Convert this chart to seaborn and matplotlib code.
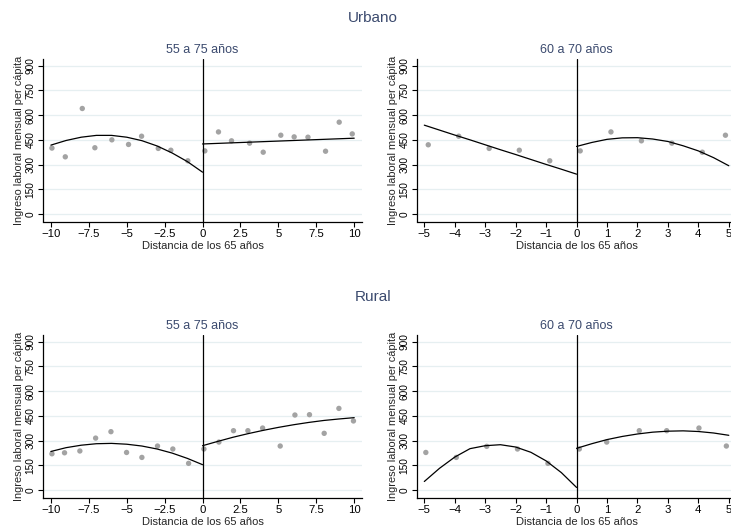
import matplotlib
matplotlib.use("Agg")
import matplotlib.pyplot as plt
import seaborn as sns
import pandas as pd

# ---------------- data ----------------
# Urbano, 55 a 75 años : binned means
urb_a_x = [-9.93, -9.05, -7.93, -7.10, -5.98, -4.88, -4.02, -2.92, -2.09, -0.97,
           0.15, 1.05, 1.91, 3.10, 4.00, 5.16, 6.04, 6.95, 8.11, 9.01, 9.87]
urb_a_y = [400, 347, 640, 402, 450, 422, 472, 398, 387, 323,
           383, 498, 444, 430, 375, 478, 468, 466, 381, 557, 486]
# Urbano, 60 a 70 años
urb_b_x = [-4.87, -3.87, -2.87, -1.88, -0.88, 0.12, 1.13, 2.13, 3.13, 4.13, 4.89]
urb_b_y = [420, 472, 398, 387, 323, 383, 498, 444, 430, 375, 478]
# Rural, 55 a 75 años
rur_a_x = [-9.93, -9.10, -8.09, -7.05, -6.04, -5.01, -4.00, -2.97, -1.96, -0.92,
           0.09, 1.08, 2.04, 2.99, 3.96, 5.12, 6.09, 7.05, 8.02, 8.99, 9.95]
rur_a_y = [220, 226, 237, 315, 354, 228, 198, 267, 249, 162,
           249, 291, 360, 360, 376, 267, 455, 457, 344, 495, 419]
# Rural, 60 a 70 años
rur_b_x = [-4.95, -3.95, -2.95, -1.94, -0.94, 0.09, 0.99, 2.06, 2.96, 4.02, 4.92]
rur_b_y = [228, 198, 265, 249, 162, 249, 291, 360, 360, 376, 267]

# fitted curves
fit_x10_left = [-10, -9, -8, -7, -6, -5, -4, -3, -2, -1, 0]
fit_x10_right = [0, 1, 2, 3, 4, 5, 6, 7, 8, 9, 10]
fit_x5_left = [-5, -4.5, -4, -3.5, -3, -2.5, -2, -1.5, -1, -0.5, 0]
fit_x5_right = [0, 0.5, 1, 1.5, 2, 2.5, 3, 3.5, 4, 4.5, 5]

urb_a_fit_l = [418, 446, 466, 477, 477, 466, 445, 413, 370, 318, 254]
urb_a_fit_r = [425, 428.5, 432, 435.5, 439, 442.5, 446, 449.5, 453, 456.5, 460]
urb_b_fit_l = [539, 509, 479, 450, 420, 390, 361, 331, 301, 272, 242]
urb_b_fit_r = [410, 434, 453, 462, 463, 455, 440, 414, 383, 342, 293]
rur_a_fit_l = [234, 257, 272, 281, 283, 278, 267, 249, 224, 192, 154]
rur_a_fit_r = [269, 295, 320, 342, 362, 380, 396, 410, 422, 431, 439]
rur_b_fit_l = [52, 132, 200, 251, 269, 275, 261, 229, 177, 106, 16]
rur_b_fit_r = [253, 281, 306, 325, 340, 351, 357, 359, 355, 346, 332]

y_ticks = [0, 150, 300, 450, 600, 750, 900]
x_ticks_a = [-10, -7.5, -5, -2.5, 0, 2.5, 5, 7.5, 10]
x_ticks_b = [-5, -4, -3, -2, -1, 0, 1, 2, 3, 4, 5]
x_labels_a = ["\u221210", "\u22127.5", "\u22125", "\u22122.5", "0", "2.5", "5", "7.5", "10"]
x_labels_b = ["\u22125", "\u22124", "\u22123", "\u22122", "\u22121", "0", "1", "2", "3", "4", "5"]

# ---------------- style ----------------
sns.set_style("white")
plt.rcParams["font.family"] = ["Liberation Sans", "DejaVu Sans"]

TITLE_COL = "#3b4a6e"
GRID_COL = "#e6eff1"
PT_COL = "#a3a3a3"

W, H = 731, 526
fig = plt.figure(figsize=(W / 100, H / 100), dpi=100)


def px_axes(left, top, width, height):
    return fig.add_axes([left / W, 1 - (top + height) / H, width / W, height / H])


panels = [
    (43.3, 59.0, urb_a_x, urb_a_y,
     [(fit_x10_left, urb_a_fit_l), (fit_x10_right, urb_a_fit_r)],
     (-10.5, 10.5), x_ticks_a, x_labels_a, "55 a 75 a\u00f1os"),
    (417.3, 59.0, urb_b_x, urb_b_y,
     [(fit_x5_left, urb_b_fit_l), (fit_x5_right, urb_b_fit_r)],
     (-5.23, 5.23), x_ticks_b, x_labels_b, "60 a 70 a\u00f1os"),
    (43.3, 335.0, rur_a_x, rur_a_y,
     [(fit_x10_left, rur_a_fit_l), (fit_x10_right, rur_a_fit_r)],
     (-10.5, 10.5), x_ticks_a, x_labels_a, "55 a 75 a\u00f1os"),
    (417.3, 335.0, rur_b_x, rur_b_y,
     [(fit_x5_left, rur_b_fit_l), (fit_x5_right, rur_b_fit_r)],
     (-5.23, 5.23), x_ticks_b, x_labels_b, "60 a 70 a\u00f1os"),
]

for left, top, xs, ys, fits, xlim, xt, xl, sub in panels:
    ax = px_axes(left, top, 318.5, 162.5)
    ax.set_facecolor("white")
    for yv in y_ticks:
        ax.axhline(yv, color=GRID_COL, lw=0.9, zorder=0)
    df = pd.DataFrame({"x": xs, "y": ys})
    sns.scatterplot(data=df, x="x", y="y", ax=ax, color=PT_COL, s=15,
                    edgecolor="none", zorder=3)
    for fx, fy in fits:
        fdf = pd.DataFrame({"x": fx, "y": fy})
        sns.lineplot(data=fdf, x="x", y="y", ax=ax, color="black", lw=0.9,
                     zorder=4, sort=True)
    ax.axvline(0, color="black", lw=0.9, zorder=5)
    ax.set_xlim(*xlim)
    ax.set_ylim(-45, 940)
    ax.set_xticks(xt)
    ax.set_xticklabels(xl)
    ax.set_yticks(y_ticks)
    ax.set_yticklabels([str(v) for v in y_ticks], rotation=90, va="center")
    for s in ["top", "right"]:
        ax.spines[s].set_visible(False)
    for s in ["left", "bottom"]:
        ax.spines[s].set_color("black")
        ax.spines[s].set_linewidth(0.9)
    ax.tick_params(axis="both", direction="out", length=3.5, width=0.8,
                   colors="black", left=True, bottom=True)
    ax.tick_params(axis="x", labelsize=8.2, pad=2.2)
    ax.tick_params(axis="y", labelsize=7.3, pad=2.0)
    ax.set_xlabel("Distancia de los 65 a\u00f1os", fontsize=8.0, labelpad=0.8)
    ax.set_ylabel("Ingreso laboral mensual per c\u00e1pita", fontsize=7.9, labelpad=1.2)
    ax.set_title(sub, fontsize=9.0, color=TITLE_COL, pad=4)

fig.text(373 / W, 1 - 18.3 / H, "Urbano", ha="center", va="center",
         fontsize=11, color=TITLE_COL)
fig.text(373 / W, 1 - 297 / H, "Rural", ha="center", va="center",
         fontsize=11, color=TITLE_COL)

fig.savefig("out.png", dpi=100, facecolor="white")
